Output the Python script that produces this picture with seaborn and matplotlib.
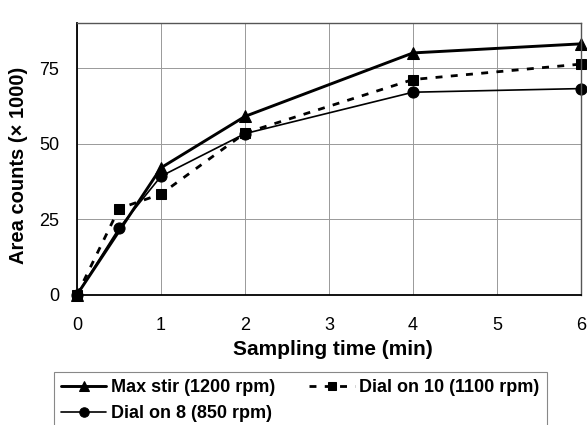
import matplotlib
matplotlib.use("Agg")
import matplotlib.pyplot as plt
import seaborn as sns
import pandas as pd

# datos
t_max = [0, 1, 2, 4, 6]
y_max = [0, 42, 59, 80, 83]
t_d10 = [0, 0.5, 1, 2, 4, 6]
y_d10 = [0, 28.5, 33.3, 53.5, 71.2, 76.3]
t_d8 = [0, 0.5, 1, 2, 4, 6]
y_d8 = [0, 22, 39.2, 53.3, 67, 68.2]

labels = ["Max stir (1200 rpm)", "Dial on 10 (1100 rpm)", "Dial on 8 (850 rpm)"]
x_ticks = [0, 1, 2, 3, 4, 5, 6]
y_ticks = [0, 25, 50, 75]

sns.set_style("white")
plt.rcParams["font.family"] = ["Liberation Sans", "DejaVu Sans"]
plt.rcParams["text.color"] = "black"

fig = plt.figure(figsize=(5.87, 4.25), dpi=100)
ax = fig.add_axes([0.1312, 0.3066, 0.8586, 0.640])

df_max = pd.DataFrame({"t": t_max, "y": y_max})
df_d10 = pd.DataFrame({"t": t_d10, "y": y_d10})
df_d8 = pd.DataFrame({"t": t_d8, "y": y_d8})

sns.lineplot(data=df_max, x="t", y="y", ax=ax, color="black", lw=2.1,
             marker="^", markersize=8, markeredgecolor="black", label=labels[0])
sns.lineplot(data=df_d8, x="t", y="y", ax=ax, color="black", lw=1.2,
             marker="o", markersize=8, markeredgecolor="black", label=labels[2])
sns.lineplot(data=df_d10, x="t", y="y", ax=ax, color="black", lw=2,
             linestyle=(0, (2.5, 3)), marker="s", markersize=7.5,
             markeredgecolor="black", label=labels[1])

ax.set_xlim(0, 6)
ax.set_ylim(0, 90)
ax.set_xticks(x_ticks)
ax.set_yticks(y_ticks)
ax.tick_params(length=5, width=0.7, color="#888888", direction="out",
               labelsize=13, labelcolor="black")
ax.tick_params(axis="x", pad=11)
ax.tick_params(axis="y", pad=8)
ax.grid(True, color="#999999", lw=0.7)
for s in ax.spines.values():
    s.set_color("#555555")
    s.set_linewidth(1)
ax.spines["bottom"].set_color("black")
ax.spines["left"].set_color("black")
ax.spines["bottom"].set_linewidth(1.3)
ax.spines["left"].set_linewidth(1.3)
for line in ax.get_lines():
    line.set_clip_on(False)

ax.set_xlabel("Sampling time (min)", fontsize=15, fontweight="bold", color="black")
ax.set_ylabel("Area counts (\u00d7 1000)", fontsize=14.5, fontweight="bold", color="black")
ax.xaxis.set_label_coords(0.508, -0.165)
ax.yaxis.set_label_coords(-0.097, 0.475)

handles, lbls = ax.get_legend_handles_labels()
order = [labels[0], labels[2], labels[1]]
hmap = dict(zip(lbls, handles))
ax.legend([hmap[k] for k in order], order, ncol=2, loc="upper left",
          bbox_to_anchor=(54 / 587, 1 - 372 / 425), bbox_transform=fig.transFigure,
          frameon=True, fancybox=False, edgecolor="#888888", framealpha=1,
          prop={"weight": "bold", "size": 13}, handlelength=2.5,
          handletextpad=0.25, columnspacing=1.9, borderpad=0.4, labelspacing=0.5,
          borderaxespad=0, markerscale=0.85)
ax.get_legend().get_frame().set_linewidth(0.8)

fig.savefig("out.png", dpi=100)
